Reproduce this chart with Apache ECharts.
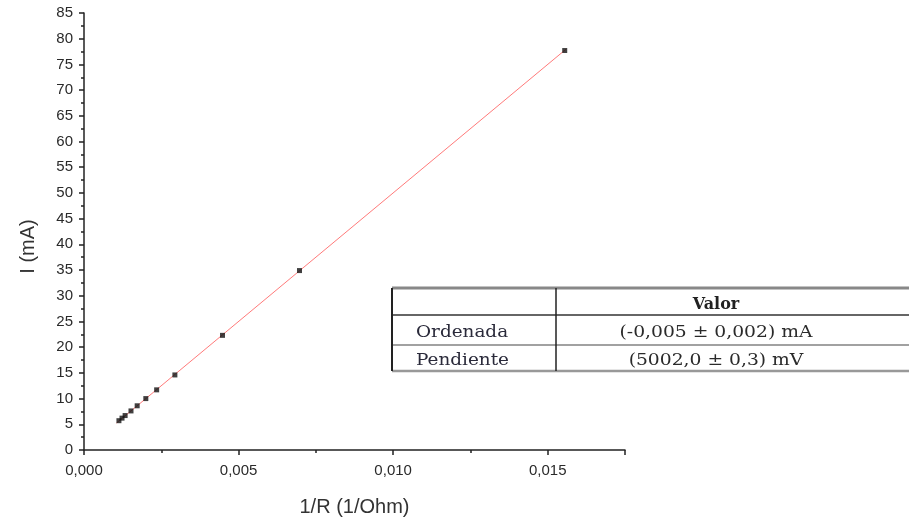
<!DOCTYPE html>
<html>
<head>
<meta charset="utf-8">
<script src="https://cdn.jsdelivr.net/npm/echarts@6/dist/echarts.min.js"></script>
<style>html,body{margin:0;padding:0;background:#fff}#c{width:909px;height:522px}</style>
</head>
<body>
<div id="c"></div>
<script>
// Data
const invR = [0.00113, 0.00123, 0.00133, 0.00152, 0.00172, 0.00200, 0.00235, 0.00294, 0.00448, 0.00697, 0.01555];
const current = [5.7, 6.2, 6.7, 7.6, 8.6, 10.0, 11.7, 14.6, 22.3, 34.9, 77.7];
const fitX = [0.00105, 0.01560];
const fitY = [5.25, 78.0];
const tableHeader = ['', 'Valor'];
const tableRows = [['Ordenada', '(-0,005 \u00B1 0,002) mA'], ['Pendiente', '(5002,0 \u00B1 0,3) mV']];

const chart = echarts.init(document.getElementById('c'));
const L = 84, T = 13, R = 284, B = 70;
const sans = "'Liberation Sans', Arial, sans-serif";
const axisFont = {fontFamily: sans, fontSize: 15, color: '#2a2a2a'};

const fmt = v => {
  const r = Math.round(v * 1000) / 1000;
  if (Math.abs(v / 0.005 - Math.round(v / 0.005)) > 1e-6) return '';
  return r.toFixed(3).replace('.', ',');
};

// Table via graphic
const tX0 = 392, tX1 = 556, tX2 = 909;
const tY = [288, 315, 345, 371];
const g = [];
const line = (x1, y1, x2, y2, stroke, w) => g.push({type: 'line', shape: {x1, y1, x2, y2}, style: {stroke, lineWidth: w}, z: 10});
line(tX0, tY[0], tX2, tY[0], '#888', 3);
line(tX0, tY[1], tX2, tY[1], '#333', 1.5);
line(tX0, tY[2], tX2, tY[2], '#444', 1.2);
line(tX0, tY[3], tX2, tY[3], '#999', 2.5);
line(tX0, tY[0], tX0, tY[3], '#222', 2);
line(tX1, tY[0], tX1, tY[3], '#222', 1.5);
const serif = "'DejaVu Serif', 'Liberation Serif', serif";
const txt = (text, x, y, align, bold, fill, sx) => g.push({
  type: 'text', x: x, y: y, scaleX: sx,
  style: {text, x: 0, y: 0, align, verticalAlign: 'middle', font: (bold ? 'bold ' : '') + '16px ' + serif, fill},
  z: 11
});
const cx = 716;
txt(tableHeader[1], cx, (tY[0] + tY[1]) / 2 + 3, 'center', true, '#222', 1.0);
tableRows.forEach((row, i) => {
  const cy = (tY[i + 1] + tY[i + 2]) / 2 + 3;
  txt(row[0], 416, cy, 'left', false, '#2a2a3a', 1.15);
  txt(row[1], cx, cy, 'center', false, '#2a2a2a', 1.17);
});

chart.setOption({
  animation: false,
  backgroundColor: '#fff',
  grid: {left: L, top: T, right: R, bottom: B, containLabel: false},
  xAxis: {
    type: 'value', min: 0, max: 0.0175, interval: 0.005,
    name: '1/R (1/Ohm)', nameLocation: 'middle', nameGap: 47,
    nameTextStyle: {fontFamily: sans, fontSize: 20, color: '#333'},
    axisLine: {show: true, onZero: false, lineStyle: {color: '#222', width: 1.5}},
    axisTick: {show: true, length: 5, lineStyle: {color: '#222', width: 1.5}},
    minorTick: {show: true, splitNumber: 2, length: 3, lineStyle: {color: '#222', width: 1.5}},
    axisLabel: Object.assign({margin: 13, formatter: fmt, showMaxLabel: false}, axisFont),
    splitLine: {show: false}
  },
  yAxis: {
    type: 'value', min: 0, max: 85, interval: 5,
    name: 'I (mA)', nameLocation: 'middle', nameGap: 46, nameRotate: 90,
    nameTextStyle: {fontFamily: sans, fontSize: 20, color: '#333', padding: [0, 30, 0, 0]},
    axisLine: {show: true, onZero: false, lineStyle: {color: '#222', width: 1.5}},
    axisTick: {show: true, length: 5, lineStyle: {color: '#222', width: 1.5}},
    minorTick: {show: true, splitNumber: 2, length: 3, lineStyle: {color: '#222', width: 1.5}},
    axisLabel: Object.assign({margin: 11}, axisFont),
    splitLine: {show: false}
  },
  series: [
    {
      type: 'line', data: fitX.map((x, i) => [x, fitY[i]]),
      showSymbol: false, lineStyle: {color: '#ff7a7a', width: 1}, z: 2, silent: true
    },
    {
      type: 'scatter', data: invR.map((x, i) => [x, current[i]]),
      symbol: 'rect', symbolSize: 5, itemStyle: {color: '#111'}, z: 3
    }
  ],
  graphic: g
});
</script>
</body>
</html>
